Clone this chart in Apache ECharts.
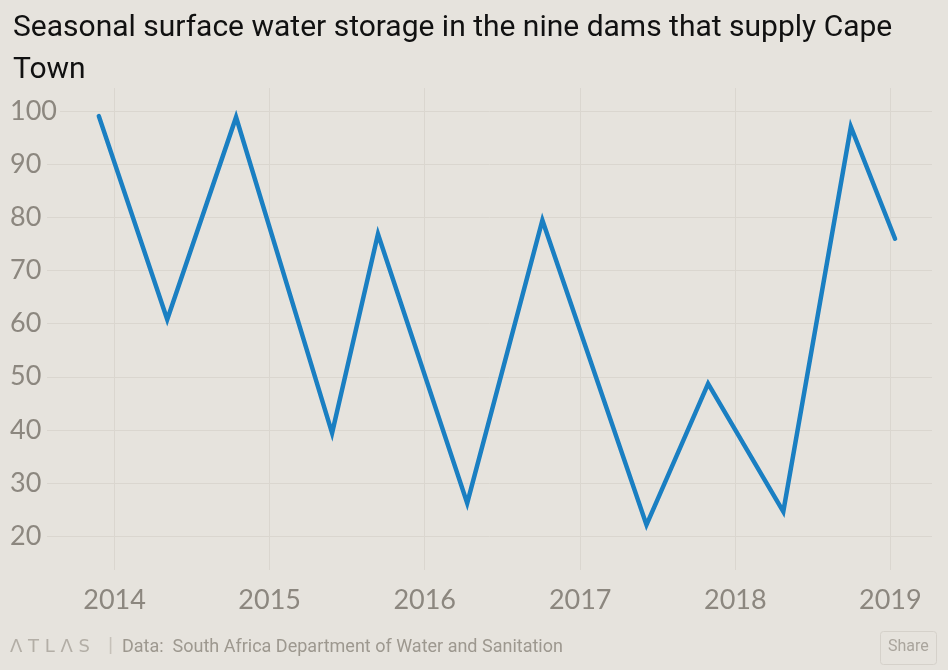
<!doctype html>
<html>
<head>
<meta charset="UTF-8">
<title>Cape Town dams</title>
<script src="https://cdn.jsdelivr.net/npm/echarts@6/dist/echarts.min.js"></script>
<style>
  html, body { margin: 0; padding: 0; background: #e6e3dd; }
  #chart { width: 948px; height: 670px; }
</style>
</head>
<body>
<div id="chart"></div>
<script>
// readings: date of each seasonal high / low, storage in %
var dates = ['2013-11-25', '2014-05-05', '2014-10-14', '2015-05-28', '2015-09-13', '2016-04-10',
             '2016-10-04', '2017-06-06', '2017-10-29', '2018-04-24', '2018-09-30', '2019-01-12'];
var storage = [99.1, 60.8, 98.9, 39.4, 76.9, 26.2, 79.5, 22.1, 48.7, 24.6, 97.1, 76.0];
var yTicks = [20, 30, 40, 50, 60, 70, 80, 90, 100];

var bg = '#e6e3dd';
var gridColor = '#dad6cf';
var labelColor = '#8c877f';

var chart = echarts.init(document.getElementById('chart'));

var points = dates.map(function (d, i) { return [d, storage[i]]; });

chart.setOption({
  backgroundColor: bg,
  animation: false,
  title: {
    text: 'Seasonal surface water storage in the nine dams that supply Cape\nTown',
    left: 8,
    top: 2,
    textStyle: {
      fontFamily: 'Roboto',
      fontSize: 30,
      fontWeight: 'normal',
      color: '#111',
      lineHeight: 42
    }
  },
  grid: { left: 47, right: 16, top: 88, bottom: 100, containLabel: false },
  xAxis: {
    type: 'time',
    min: '2013-07-26',
    max: '2019-04-09',
    minInterval: 365 * 24 * 3600 * 1000,
    maxInterval: 366 * 24 * 3600 * 1000,
    axisLine: { show: false },
    axisTick: { show: false },
    splitLine: { show: true, showMinLine: false, showMaxLine: false, lineStyle: { color: gridColor, width: 1 } },
    axisLabel: {
      formatter: '{yyyy}',
      color: labelColor,
      fontFamily: 'Lato',
      fontSize: 27,
      margin: 17,
      showMinLabel: false,
      showMaxLabel: false
    }
  },
  yAxis: {
    type: 'value',
    min: 13.6,
    max: 104.4,
    axisLine: { show: false },
    axisTick: { show: false, customValues: yTicks },
    splitLine: { show: true, lineStyle: { color: gridColor, width: 1 } },
    axisLabel: {
      customValues: yTicks,
      color: labelColor,
      fontFamily: 'Lato',
      fontSize: 27,
      align: 'left',
      margin: 37,
      backgroundColor: bg,
      padding: [0, 3, 0, 0]
    }
  },
  series: [{
    type: 'line',
    data: points,
    showSymbol: false,
    symbol: 'none',
    lineStyle: { color: '#1a7fc2', width: 4.5, cap: 'round', join: 'miter' }
  }],
  graphic: [
    {
      type: 'text', left: 10, top: 638,
      style: { text: 'Λ T L Λ S', fontFamily: 'DejaVu Sans', fontSize: 18, fill: '#b3aea6' }
    },
    {
      type: 'text', left: 108, top: 636,
      style: { text: '|', fontFamily: 'Roboto', fontSize: 21, fill: '#c6c1b9' }
    },
    {
      type: 'text', left: 122, top: 638,
      style: { text: 'Data:  South Africa Department of Water and Sanitation', fontFamily: 'Roboto', fontSize: 18, fill: '#9d988f' }
    },
    {
      type: 'rect', left: 880, top: 631,
      shape: { width: 56, height: 33, r: 3 },
      style: { fill: bg, stroke: '#d5d1ca', lineWidth: 1 }
    },
    {
      type: 'text', left: 888, top: 639,
      style: { text: 'Share', fontFamily: 'Roboto', fontSize: 16, fill: '#aaa59d' }
    }
  ]
});
</script>
</body>
</html>
